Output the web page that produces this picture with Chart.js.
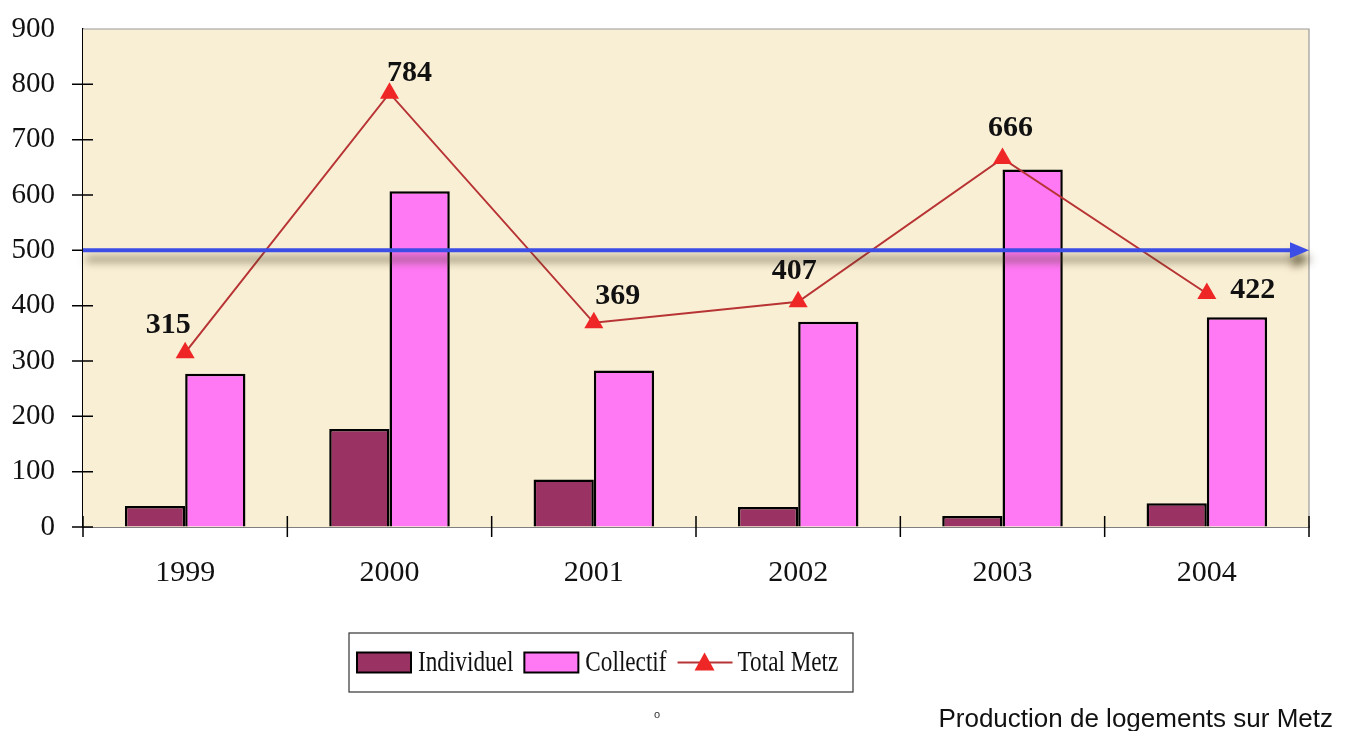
<!DOCTYPE html>
<html lang="fr">
<head>
<meta charset="utf-8">
<title>Production de logements sur Metz</title>
<script src="https://cdn.jsdelivr.net/npm/chart.js@4.4.1/dist/chart.umd.min.js"></script>
<style>
  html, body { margin: 0; padding: 0; background: #fff; }
  #wrap { position: relative; width: 1348px; height: 731px; overflow: hidden; }
  #footer {
    position: absolute; right: 15px; top: 705px; line-height: 26px;
    font-family: 'Liberation Sans', Arial, sans-serif; font-size: 26px; color: #111;
  }
  #mark {
    position: absolute; left: 654px; top: 708px;
    font-family: 'Liberation Sans', Arial, sans-serif; font-size: 11px; color: #333;
  }
</style>
</head>
<body>
<div id="wrap">
  <canvas id="chart" width="1348" height="731"></canvas>
  <div id="mark">o</div>
  <div id="footer">Production de logements sur Metz</div>
</div>
<script>
// ─── données ───────────────────────────────────────────────
const YEARS      = ['1999', '2000', '2001', '2002', '2003', '2004']
const INDIVIDUEL = [38, 177, 86, 36, 20, 43]
const COLLECTIF  = [277, 607, 283, 371, 646, 379]
const TOTAL_METZ = [315, 784, 369, 407, 666, 422]
const Y_TICKS    = [0, 100, 200, 300, 400, 500, 600, 700, 800, 900]
const SEUIL      = 500

// ─── couleurs ──────────────────────────────────────────────
const COLORS = {
  plum:  '#9a3264',
  pink:  '#ff78f4',
  red:   '#ee2626',
  line:  '#b83434',
  blue:  '#3d4ee6',
  cream: '#f9efd5',
}

const SERIF = "'Liberation Serif', 'Times New Roman', serif"

// décalage des étiquettes de valeur par rapport au point (dx, dy)
const LABEL_OFFSETS = [[-17, -27], [20, -20], [24, -27], [-4, -31], [8, -30], [46, -3]]

// fond crème + cadre gris haut/droite
const plotBackground = {
  id: 'plotBackground',
  beforeDatasetsDraw(chart) {
    const { ctx, chartArea: a } = chart
    ctx.save()
    ctx.fillStyle = COLORS.cream
    ctx.fillRect(a.left, a.top, a.right - a.left, a.bottom - a.top)
    ctx.strokeStyle = '#9a9a9a'
    ctx.lineWidth = 1.2
    ctx.beginPath()
    ctx.moveTo(a.left, a.top)
    ctx.lineTo(a.right, a.top)
    ctx.lineTo(a.right, a.bottom)
    ctx.stroke()

    // graduations qui traversent les axes
    const y = chart.scales.y
    ctx.strokeStyle = '#000'
    ctx.lineWidth = 1.5
    ctx.beginPath()
    Y_TICKS.slice(0, -1).forEach(v => {
      const py = y.getPixelForValue(v)
      ctx.moveTo(a.left - 11, py)
      ctx.lineTo(a.left + 10, py)
    })
    const step = (a.right - a.left) / YEARS.length
    for (let i = 0; i <= YEARS.length; i++) {
      const px = a.left + i * step
      ctx.moveTo(px, a.bottom - 11)
      ctx.lineTo(px, a.bottom + 10)
    }
    ctx.stroke()
    ctx.restore()
  }
}

// ligne bleue à 500 avec flèche et ombre
const seuilLine = {
  id: 'seuilLine',
  afterDatasetsDraw(chart) {
    const { ctx, chartArea: a } = chart
    const py = chart.scales.y.getPixelForValue(SEUIL)
    const tip = a.right
    ctx.save()
    ctx.shadowColor = 'rgba(70,60,30,0.75)'
    ctx.shadowBlur = 9
    ctx.shadowOffsetY = 9
    ctx.shadowOffsetX = 3
    ctx.strokeStyle = COLORS.blue
    ctx.fillStyle = COLORS.blue
    ctx.lineWidth = 4
    ctx.beginPath()
    ctx.moveTo(a.left, py)
    ctx.lineTo(tip - 16, py)
    ctx.stroke()
    ctx.beginPath()
    ctx.moveTo(tip, py)
    ctx.lineTo(tip - 19, py - 8)
    ctx.lineTo(tip - 19, py + 8)
    ctx.closePath()
    ctx.fill()
    ctx.restore()
  }
}

// étiquettes des totaux
const totalLabels = {
  id: 'totalLabels',
  afterDatasetsDraw(chart) {
    const { ctx } = chart
    const meta = chart.getDatasetMeta(2)
    ctx.save()
    ctx.font = 'bold 30px ' + SERIF
    ctx.fillStyle = '#111'
    ctx.textAlign = 'center'
    ctx.textBaseline = 'middle'
    meta.data.forEach((pt, i) => {
      const [dx, dy] = LABEL_OFFSETS[i]
      ctx.fillText(String(TOTAL_METZ[i]), pt.x + dx, pt.y + dy)
    })
    ctx.restore()
  }
}

// légende encadrée en bas
const boxLegend = {
  id: 'boxLegend',
  afterDraw(chart) {
    const { ctx } = chart
    const box = { left: 349, top: 633, width: 504, height: 59 }
    const cy = box.top + box.height / 2
    const squeeze = 0.8
    ctx.save()
    ctx.fillStyle = '#fff'
    ctx.fillRect(box.left, box.top, box.width, box.height)
    ctx.strokeStyle = '#333'
    ctx.lineWidth = 1.2
    ctx.strokeRect(box.left, box.top, box.width, box.height)

    ctx.font = '29px ' + SERIF
    ctx.textBaseline = 'middle'
    ctx.textAlign = 'left'
    let x = box.left + 8
    chart.data.datasets.forEach(ds => {
      if (ds.type === 'line') {
        ctx.strokeStyle = COLORS.line
        ctx.lineWidth = 2
        ctx.beginPath()
        ctx.moveTo(x, cy)
        ctx.lineTo(x + 55, cy)
        ctx.stroke()
        ctx.fillStyle = COLORS.red
        ctx.beginPath()
        ctx.moveTo(x + 27, cy - 10)
        ctx.lineTo(x + 37, cy + 8)
        ctx.lineTo(x + 17, cy + 8)
        ctx.closePath()
        ctx.fill()
        x += 60
      } else {
        ctx.fillStyle = ds.backgroundColor
        ctx.fillRect(x, cy - 10, 54, 20)
        ctx.strokeStyle = '#000'
        ctx.lineWidth = 2
        ctx.strokeRect(x, cy - 10, 54, 20)
        x += 61
      }
      ctx.fillStyle = '#111'
      ctx.save()
      ctx.translate(x, cy + 1)
      ctx.scale(squeeze, 1)
      ctx.fillText(ds.label, 0, 0)
      ctx.restore()
      x += ctx.measureText(ds.label).width * squeeze + 11
    })
    ctx.restore()
  }
}

new Chart(document.getElementById('chart'), {
  type: 'bar',
  data: {
    labels: YEARS,
    datasets: [
      { label: 'Individuel', data: INDIVIDUEL, backgroundColor: COLORS.plum,
        borderColor: '#000', borderWidth: 2.5, order: 2,
        categoryPercentage: 0.59, barPercentage: 1.0 },
      { label: 'Collectif', data: COLLECTIF, backgroundColor: COLORS.pink,
        borderColor: '#000', borderWidth: 2.5, order: 2,
        categoryPercentage: 0.59, barPercentage: 1.0 },
      { type: 'line', label: 'Total Metz', data: TOTAL_METZ, order: 1,
        borderColor: COLORS.line, borderWidth: 2, tension: 0,
        pointStyle: 'triangle', pointRadius: 11, pointBackgroundColor: COLORS.red,
        pointBorderColor: COLORS.red, pointBorderWidth: 0 }
    ]
  },
  options: {
    responsive: false,
    animation: false,
    layout: { padding: { top: 29, right: 39, left: 0, bottom: 0 } },
    plugins: { legend: { display: false }, tooltip: { enabled: false } },
    scales: {
      x: {
        grid: { display: false, drawTicks: false },
        border: { display: true, color: '#000', width: 1.5 },
        ticks: { padding: 28, color: '#111', font: { family: SERIF, size: 30 } },
        afterFit: s => { s.height = 204 }
      },
      y: {
        min: 0, max: 900,
        grid: { display: true, drawOnChartArea: false, drawTicks: true, tickLength: 17, color: 'rgba(0,0,0,0)' },
        border: { display: true, color: '#000', width: 1.5 },
        afterBuildTicks: s => { s.ticks = Y_TICKS.map(v => ({ value: v })) },
        ticks: { padding: 11, color: '#111', font: { family: SERIF, size: 29 } },
        afterFit: s => { s.width = 83 }
      }
    }
  },
  plugins: [plotBackground, seuilLine, totalLabels, boxLegend]
})
</script>
</body>
</html>
